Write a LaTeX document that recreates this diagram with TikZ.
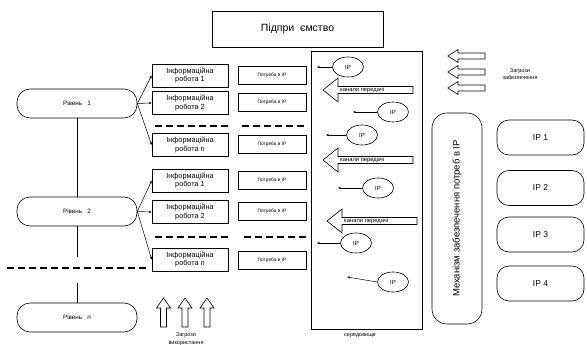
\documentclass[tikz,border=0pt]{standalone}
\usepackage{fontspec}
\setmainfont{Liberation Sans}
\usetikzlibrary{arrows.meta,shapes.geometric}
\tikzset{
  base/.style={draw, line width=0.6pt, inner sep=0pt},
  titlebox/.style={base, minimum width=171, minimum height=36, font=\fontsize{10.5}{12}\selectfont},
  lvl/.style={base, rounded corners=13pt, minimum width=120, minimum height=29, font=\fontsize{6.3}{7}\selectfont},
  info/.style={base, minimum width=76, minimum height=23, align=center, font=\fontsize{7.3}{8.3}\selectfont},
  need/.style={base, minimum width=68, minimum height=18, font=\fontsize{4.8}{6}\selectfont},
  ipe/.style={base, ellipse, minimum width=31, minimum height=20, font=\fontsize{6}{7}\selectfont},
  ipbox/.style={base, rounded corners=12pt, minimum width=87, minimum height=35, font=\fontsize{8.5}{10}\selectfont},
  conn/.style={line width=0.5pt, -{Stealth[length=3pt,width=2.4pt]}},
  dashline/.style={line width=1.4pt, dash pattern=on 7pt off 4pt},
  small/.style={font=\fontsize{5.5}{6.5}\selectfont, align=center, inner sep=0pt},
  pics/chan/.style={code={
    \draw[line width=0.6pt] (0,0) -- (15,-12) -- (15,-3.5) -- (90,-3.5) -- (90,3.5) -- (15,3.5) -- (15,12) -- cycle;
    \node[font=\fontsize{5.8}{6.5}\selectfont, inner sep=0pt, anchor=west] (-t) at (17,0) {канали передачі};
  }},
  pics/threatleft/.style={code={
    \draw[line width=0.6pt] (0,0) -- (10,-6.5) -- (10,-3) -- (37,-3) -- (37,3) -- (10,3) -- (10,6.5) -- cycle;
  }},
  pics/threatup/.style={code={
    \draw[line width=0.6pt] (0,0) -- (-7,10) -- (-3,10) -- (-3,29) -- (3,29) -- (3,10) -- (7,10) -- cycle;
  }}
}
\begin{document}
\begin{tikzpicture}[x=1pt,y=-1pt]
\useasboundingbox (0,0) rectangle (587,345);

% title
\node[titlebox] (ent) at (297.5,29) {Підпри~~ємство};

% levels
\node[lvl] (l1) at (77,103.5) {Рівень~~~1};
\node[lvl] (l2) at (77,211.5) {Рівень~~~2};
\node[lvl] (ln) at (77,317.5) {Рівень~~~n};
\coordinate (v1) at (77,257);
\coordinate (v2) at (77,283);
\draw[line width=0.6pt] (l1.south) -- (l2.north);
\draw[line width=0.6pt] (l2.south) -- (v1);
\draw[line width=0.6pt] (v2) -- (ln.north);

% info works
\node[info] (i11) at (190,75.5) {Інформаційна\\робота 1};
\node[info] (i12) at (190,103) {Інформаційна\\робота 2};
\node[info] (i1n) at (190,145) {Інформаційна\\робота n};
\node[info] (i21) at (190,180.5) {Інформаційна\\робота 1};
\node[info] (i22) at (190,212) {Інформаційна\\робота 2};
\node[info] (i2n) at (190,259.5) {Інформаційна\\робота n};

\draw[conn] (l1.east) -- (i11.west);
\draw[conn] (l1.east) -- (i12.west);
\draw[conn] (l1.east) -- (i1n.west);
\draw[conn] (l2.east) -- (i21.west);
\draw[conn] (l2.east) -- (i22.west);
\draw[conn] (l2.east) -- (i2n.west);

% needs
\node[need] (n11) at (272,75) {Потреба в IP};
\node[need] (n12) at (272,102.5) {Потреба в IP};
\node[need] (n1n) at (272,144) {Потреба в IP};
\node[need] (n21) at (272,180.5) {Потреба в IP};
\node[need] (n22) at (272,211.5) {Потреба в IP};
\node[need] (n2n) at (272,260.5) {Потреба в IP};

% dashed separators
\draw[dashline] (155,126) -- (228,126);
\draw[dashline] (242,126) -- (307,126);
\draw[dashline] (155,237) -- (228,237);
\draw[dashline] (244,237) -- (309,237);
\draw[dashline] (7,268) -- (147,268);

% environment
\node[base, minimum width=111, minimum height=278] (env) at (366.5,190) {};
\node[small] (envl) at (360,336) {середовище};

\node[ipe] (e1) at (348,67) {IP};
\node[ipe] (e2) at (393,112) {IP};
\node[ipe] (e3) at (362,135) {IP};
\node[ipe] (e4) at (378,188) {IP};
\node[ipe] (e5) at (356,243) {IP};
\node[ipe] (e6) at (393,282) {IP};
\coordinate (a1) at (317,67);
\coordinate (a2) at (353,112);
\coordinate (a3) at (326,135);
\coordinate (a4) at (338,188);
\coordinate (a5) at (317,243);
\coordinate (a6) at (347,277);
\draw[conn] (e1.west) -- (a1);
\draw[conn] (e2.west) -- (a2);
\draw[conn] (e3.west) -- (a3);
\draw[conn] (e4.west) -- (a4);
\draw[conn] (e5.west) -- (a5);
\draw[conn] (e6.west) -- (a6);

\pic (c1) at (323,90) {chan};
\pic (c2) at (323,160) {chan};
\pic (c3) at (327,221) {chan};

% mechanism
\node[base, rounded corners=15pt, rotate=90, minimum width=211, minimum height=50, font=\fontsize{9.5}{11}\selectfont] (mech) at (457,218.5) {Механізм забезпечення потреб в IP};

% IP boxes
\node[ipbox] (ip1) at (540.5,137.5) {IP 1};
\node[ipbox] (ip2) at (540.5,188) {IP 2};
\node[ipbox] (ip3) at (540.5,234.5) {IP 3};
\node[ipbox] (ip4) at (540.5,283.5) {IP 4};

% threats of provision
\pic at (448,56) {threatleft};
\pic at (448,72) {threatleft};
\pic at (448,88) {threatleft};
\node[small, font=\fontsize{5.5}{7}\selectfont] (tz) at (520,74) {Загрози\\забезпечення};

% threats of use
\pic at (163.5,298) {threatup};
\pic at (185,298) {threatup};
\pic at (207,298) {threatup};
\node[small, font=\fontsize{5.5}{8}\selectfont, anchor=north] (tv) at (186,332.5) {Загрози\\використання};
\end{tikzpicture}
\end{document}
